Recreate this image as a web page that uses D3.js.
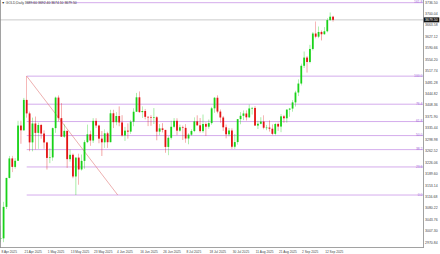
<!DOCTYPE html>
<html>
<head>
<meta charset="utf-8">
<script src="https://cdn.jsdelivr.net/npm/d3@7"></script>
<style>
  body { margin:0; background:#fff; }
  svg { display:block; font-family:"Liberation Sans", Arial, sans-serif; }
</style>
</head>
<body>
<svg id="chart" width="440" height="254"></svg>
<script>
// GOLD daily candles, 8 Apr 2025 .. 17 Sep 2025 (bar index = position)
var opens  = [2982.3,2982.6,3083.0,3175.3,3237.6,3210.5,3230.1,3342.4,3327.2,3424.2,3381.1,3288.7,3349.0,3319.0,3344.2,3316.9,
              3288.5,3239.1,3240.7,3334.2,3431.6,3366.1,3306.8,3325.6,3235.2,3249.1,3180.0,3240.2,3202.3,3229.7,3289.5,3314.4,
              3294.6,3357.3,3342.4,3300.6,3288.9,3317.6,3289.3,3381.5,3353.2,3372.8,3352.3,3310.7,3326.2,3323.0,3354.5,3386.5,
              3432.5,3385.2,3388.8,3370.2,3368.9,3368.3,3368.8,3323.0,3333.4,3328.5,3274.2,3303.3,3338.5,3357.5,3326.1,3336.9,
              3335.0,3301.1,3313.3,3324.9,3355.8,3343.2,3324.7,3347.3,3338.8,3350.1,3397.3,3431.1,3387.0,3368.1,3336.8,3314.5,
              3326.6,3274.8,3289.7,3362.9,3373.4,3380.9,3368.7,3396.9,3398.5,3342.4,3348.1,3355.1,3335.4,3336.0,3332.3,3315.9,
              3347.4,3339.2,3371.8,3365.6,3393.2,3396.5,3416.3,3447.8,3476.4,3533.1,3559.2,3545.2,3586.7,3635.9,3625.9,3640.9,
              3633.7,3643.1,3678.9,3689.6];
var highs  = [3023.4,3099.0,3175.6,3245.4,3245.7,3238.4,3357.5,3357.6,3430.5,3500.0,3386.8,3367.6,3371.1,3351.6,3347.7,3327.1,
              3290.5,3269.5,3336.3,3434.7,3438.4,3414.0,3346.7,3325.6,3266.3,3253.2,3240.4,3252.6,3250.0,3295.5,3345.4,3326.2,
              3365.9,3365.7,3345.0,3325.0,3330.4,3322.6,3392.5,3392.8,3385.3,3403.4,3375.4,3338.0,3349.4,3360.5,3397.5,3446.5,
              3451.2,3403.5,3395.3,3372.2,3375.3,3398.2,3372.2,3347.2,3350.0,3328.5,3308.3,3358.0,3366.1,3365.6,3345.5,3342.3,
              3347.0,3317.6,3330.4,3368.5,3375.0,3366.4,3377.5,3352.4,3361.6,3402.0,3433.4,3438.9,3393.7,3373.0,3345.6,3334.5,
              3333.6,3315.0,3363.3,3385.3,3390.7,3390.8,3409.3,3402.0,3404.2,3357.8,3368.9,3375.1,3344.4,3358.6,3345.9,3351.0,
              3351.9,3378.9,3376.4,3394.2,3398.6,3423.4,3453.3,3489.9,3539.9,3578.5,3563.9,3600.0,3640.5,3674.3,3658.4,3645.6,
              3656.4,3685.2,3703.1,3692.4];
var lows   = [2970.3,2970.4,3076.1,3173.5,3193.9,3205.0,3229.3,3284.3,3326.0,3367.4,3260.4,3260.2,3266.1,3268.0,3300.6,3268.4,
              3202.1,3222.4,3230.0,3319.0,3355.5,3306.4,3302.8,3207.4,3227.4,3174.3,3120.8,3153.6,3198.6,3204.9,3286.1,3277.7,
              3287.1,3335.1,3285.9,3245.3,3271.1,3271.1,3289.3,3334.4,3343.3,3340.2,3307.4,3293.3,3300.5,3315.7,3340.2,3385.7,
              3383.5,3366.7,3362.1,3340.6,3341.6,3347.3,3295.4,3311.9,3320.5,3255.6,3247.9,3298.0,3333.9,3311.8,3322.9,3296.4,
              3287.5,3282.7,3310.1,3321.3,3341.3,3320.0,3319.6,3309.7,3332.3,3345.0,3383.1,3381.4,3351.2,3325.3,3301.6,3308.1,
              3268.4,3268.3,3281.5,3346.6,3359.8,3358.4,3366.3,3377.6,3341.5,3331.4,3346.4,3330.5,3327.6,3323.2,3311.8,3311.3,
              3325.6,3321.3,3351.0,3351.5,3370.4,3386.5,3403.0,3436.4,3470.4,3525.9,3511.4,3540.9,3582.2,3620.7,3621.2,3614.0,
              3632.1,3639.7,3676.2,3674.1];
var closes = [2982.6,3083.0,3175.3,3237.6,3210.5,3230.1,3342.4,3327.2,3424.2,3381.1,3288.7,3349.0,3319.0,3344.2,3316.9,3288.5,
              3239.1,3240.7,3334.2,3431.6,3366.1,3306.8,3325.6,3235.2,3249.1,3180.0,3240.2,3202.3,3229.7,3289.5,3314.4,3294.6,
              3357.3,3342.4,3300.6,3288.9,3317.6,3289.3,3381.5,3353.2,3372.8,3352.3,3310.7,3326.2,3323.0,3354.5,3386.5,3432.5,
              3385.2,3388.8,3370.2,3368.9,3368.3,3368.8,3323.0,3333.4,3328.5,3274.2,3303.3,3338.5,3357.5,3326.1,3336.9,3335.0,
              3301.1,3313.3,3324.9,3355.8,3343.2,3324.7,3347.3,3338.8,3350.1,3397.3,3431.1,3387.0,3368.1,3336.8,3314.5,3326.6,
              3274.8,3289.7,3362.9,3373.4,3380.9,3368.7,3396.9,3398.5,3342.4,3348.1,3355.1,3335.4,3336.0,3332.3,3315.9,3347.4,
              3339.2,3371.8,3365.6,3393.2,3396.5,3416.3,3447.8,3476.4,3533.1,3559.2,3545.2,3586.7,3635.9,3625.9,3640.9,3633.7,
              3643.1,3678.9,3689.6,3679.5];

var xTickLabels = ["8 Apr 2025","21 Apr 2025","1 May 2025","13 May 2025","23 May 2025","4 Jun 2025","16 Jun 2025",
                   "26 Jun 2025","8 Jul 2025","18 Jul 2025","30 Jul 2025","11 Aug 2025","21 Aug 2025","2 Sep 2025","12 Sep 2025"];
var yTickLabels = [2970.84,3007.30,3043.76,3080.22,3116.68,3153.14,3189.60,3226.06,3262.52,3298.98,3335.44,
                   3371.90,3408.36,3444.82,3481.28,3517.74,3554.20,3590.66,3627.12,3663.58,3700.04,3736.50];

// fibonacci retracement drawn from the 22 Apr high to the 15 May low
var fibLevels = [0, 23.6, 38.2, 50, 61.8, 76.4, 100, 161.8];
var fibHigh = {bar: 9, price: 3500.0};
var fibLow  = {bar: 40.5, price: 3120.8};

var title = "GOLD,Daily  3689.60 3692.40 3674.10 3679.50";

var W = 440, H = 254;
var plotR = 423, plotB = 248;
var n = opens.length;

var svg = d3.select("#chart");

var x = d3.scaleLinear().domain([0, n - 1]).range([0.7, 0.7 + (n - 1) * 2.89]);
var y = d3.scaleLinear().domain([2951.8, 3742.9]).range([plotB, 0]);

var up = "#19d219", down = "#e31414";

// fib lines (behind candles)
var fibG = svg.append("g");
var fp = function(l){ return fibLow.price + (fibHigh.price - fibLow.price) * l / 100; };
fibG.selectAll("line.fib")
  .data(fibLevels).enter().append("line")
  .attr("class", "fib")
  .attr("x1", x(fibHigh.bar)).attr("x2", plotR)
  .attr("y1", function(d){ return y(fp(d)); })
  .attr("y2", function(d){ return y(fp(d)); })
  .style("stroke", "#cfa3ea").style("stroke-width", 0.9);
fibG.selectAll("text.fib")
  .data(fibLevels).enter().append("text")
  .attr("class", "fib")
  .attr("x", plotR - 0.5)
  .attr("y", function(d){ return y(fp(d)) + 0.8; })
  .attr("text-anchor", "end")
  .style("font-size", "3.4px").style("fill", "#a469d8")
  .text(function(d){ return d.toFixed(1); });
fibG.append("line")
  .attr("x1", x(fibHigh.bar)).attr("y1", y(fibHigh.price))
  .attr("x2", x(fibLow.bar)).attr("y2", y(fibLow.price))
  .style("stroke", "#e07a7a").style("stroke-width", 0.6);

// bid line
var last = closes[n - 1];
svg.append("line")
  .attr("x1", 0).attr("x2", plotR)
  .attr("y1", y(last)).attr("y2", y(last))
  .style("stroke", "#bdbdbd").style("stroke-width", 0.8);

// candles
var idx = d3.range(n);
var cg = svg.append("g");
cg.selectAll("line.wick")
  .data(idx).enter().append("line")
  .attr("class", "wick")
  .attr("x1", function(i){ return x(i); }).attr("x2", function(i){ return x(i); })
  .attr("y1", function(i){ return y(highs[i]); })
  .attr("y2", function(i){ return y(lows[i]); })
  .style("stroke", function(i){ return closes[i] >= opens[i] ? up : down; })
  .style("stroke-width", 0.5).style("opacity", 0.75);
cg.selectAll("rect")
  .data(idx).enter().append("rect")
  .attr("x", function(i){ return x(i) - 0.9; })
  .attr("width", 1.8)
  .attr("y", function(i){ return y(Math.max(opens[i], closes[i])); })
  .attr("height", function(i){ return Math.max(0.6, Math.abs(y(opens[i]) - y(closes[i]))); })
  .style("fill", function(i){ return closes[i] >= opens[i] ? up : down; });

// frame
svg.append("line").attr("x1", 0.5).attr("x2", 0.5).attr("y1", 0).attr("y2", plotB)
  .style("stroke", "#8a8a8a").style("stroke-width", 0.8);
svg.append("line").attr("x1", plotR + 0.5).attr("x2", plotR + 0.5).attr("y1", 0).attr("y2", plotB)
  .style("stroke", "#8a8a8a").style("stroke-width", 0.8);
svg.append("line").attr("x1", 0).attr("x2", plotR + 0.5).attr("y1", plotB - 0.5).attr("y2", plotB - 0.5)
  .style("stroke", "#8a8a8a").style("stroke-width", 0.8);

// price axis
var yAxis = d3.axisRight(y).tickValues(yTickLabels).tickSize(0).tickPadding(1.5)
  .tickFormat(d3.format(".2f"));
svg.append("g")
  .attr("transform", "translate(" + (plotR + 0.5) + ",0)")
  .call(yAxis)
  .call(function(g){ g.select(".domain").remove(); })
  .selectAll("text")
  .style("font-size", "3.5px").style("fill", "#444").style("font-family", "Liberation Sans, Arial");

// current price tag
svg.append("rect").attr("x", plotR + 0.8).attr("y", y(last) - 2.5).attr("width", 15.5).attr("height", 5)
  .style("fill", "#111");
svg.append("text").attr("x", plotR + 2).attr("y", y(last) + 1.2)
  .style("font-size", "3.5px").style("fill", "#fff").text(last.toFixed(2));

// time axis
var xAxis = d3.axisBottom(x).tickValues(d3.range(0, n, 8)).tickSize(0).tickPadding(2.5)
  .tickFormat(function(d, i){ return xTickLabels[i]; });
svg.append("g")
  .attr("transform", "translate(0," + plotB + ")")
  .call(xAxis)
  .call(function(g){ g.select(".domain").remove(); })
  .selectAll("text")
  .attr("text-anchor", "start")
  .attr("dx", "0.3")
  .style("font-size", "3.2px").style("fill", "#444").style("font-family", "Liberation Sans, Arial");

// title
svg.append("text").attr("x", 1.5).attr("y", 4)
  .style("font-size", "3.4px").style("fill", "#333")
  .text("\u25BC " + title);
</script>
</body>
</html>
